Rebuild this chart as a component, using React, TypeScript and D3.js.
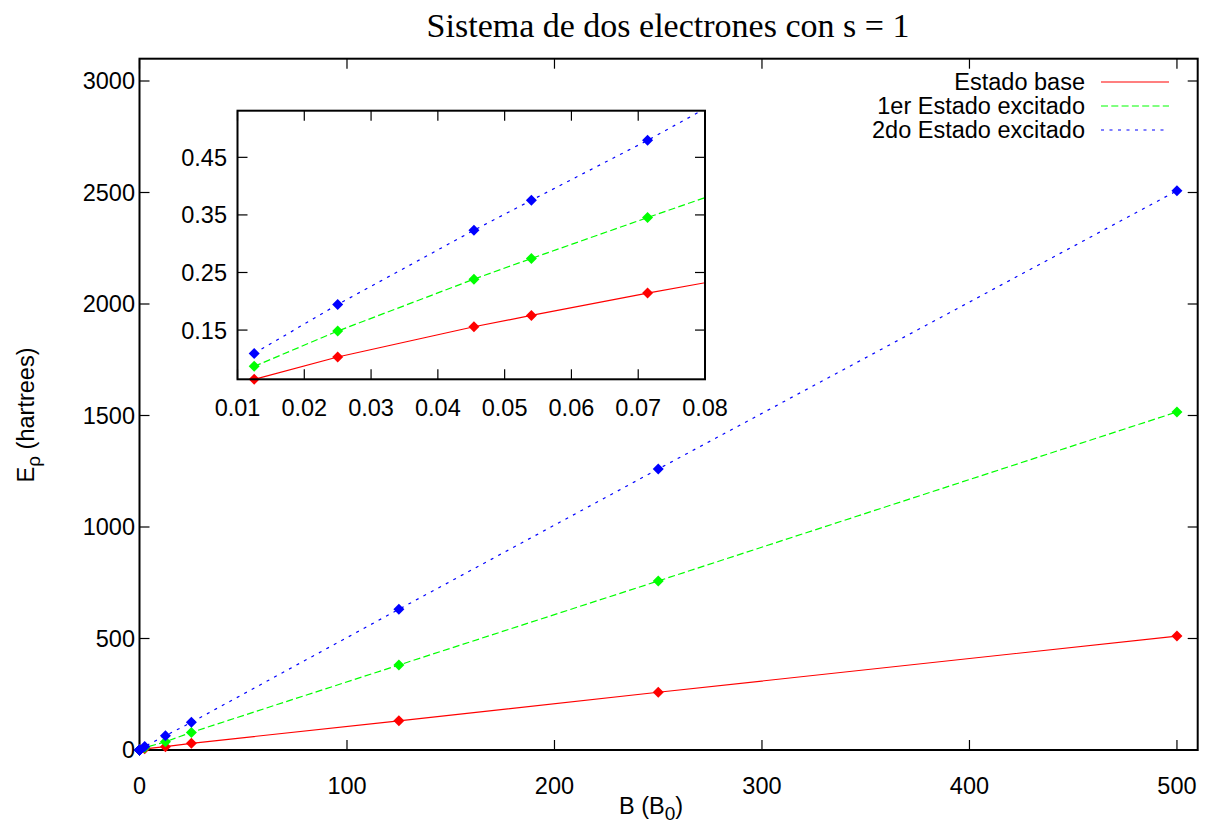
import React from "react";
import * as d3 from "d3";

const bValues = [0.0125, 0.025, 0.0454, 0.054, 0.0714, 2.5, 12.5, 25, 125, 250, 500];
const estadoBase = [0.0645, 0.1032, 0.1558, 0.1754, 0.2142, 5.3, 15, 30, 131, 259, 511];
const primerExcitado = [0.087, 0.1483, 0.2384, 0.2743, 0.3454, 10.1, 37, 79, 381, 758, 1516];
const segundoExcitado = [0.1095, 0.1945, 0.3234, 0.3754, 0.4795, 16, 64, 124, 631, 1260, 2508];

const seriesNames = ["Estado base", "1er Estado excitado", "2do Estado excitado"];
const seriesColors = ["#ff0000", "#00ff00", "#0000ff"];
const seriesDash = [null, "7,3.3", "3,5.5"];

const mainXTicks = [0, 100, 200, 300, 400, 500];
const mainYTicks = [0, 500, 1000, 1500, 2000, 2500, 3000];
const insetXTicks = [0.01, 0.02, 0.03, 0.04, 0.05, 0.06, 0.07, 0.08];
const insetYTicks = [0.15, 0.25, 0.35, 0.45];

const W = 1207;
const H = 827;
const SANS = "'Liberation Sans', Arial, Helvetica, sans-serif";
const SERIF = "'Liberation Serif', 'Times New Roman', serif";
const FS = 23.5;

const allSeries = [estadoBase, primerExcitado, segundoExcitado];

function diamond(x: number, y: number, r: number) {
  return `M${x},${y - r}L${x + r},${y}L${x},${y + r}L${x - r},${y}Z`;
}

export default function App() {
  const x = d3.scaleLinear().domain([0, 510]).range([139.5, 1197.7]);
  const y = d3.scaleLinear().domain([0, 3100]).range([750, 58.7]);
  const ix = d3.scaleLinear().domain([0.01, 0.08]).range([237.5, 705]);
  const iy = d3.scaleLinear().domain([0.0645, 0.531]).range([379.3, 110.7]);

  const lineMain = d3
    .line<number>()
    .x((_, i) => x(bValues[i]))
    .y((d) => y(d));
  const lineInset = d3
    .line<number>()
    .x((_, i) => ix(bValues[i]))
    .y((d) => iy(d));

  const [x0, x1] = x.range();
  const [y0, y1] = y.range();
  const [ix0, ix1] = ix.range();
  const [iy0, iy1] = iy.range();
  const tl = 10;

  return (
    <svg
      width={W}
      height={H}
      style={{ position: "absolute", left: 0, top: 0, background: "#fff" }}
    >
      <defs>
        <clipPath id="mainClip">
          <rect x={x0} y={y1} width={x1 - x0} height={y0 - y1} />
        </clipPath>
        <clipPath id="insetClip">
          <rect x={ix0} y={iy1} width={ix1 - ix0} height={iy0 - iy1} />
        </clipPath>
      </defs>
      <rect width={W} height={H} fill="#fff" />

      {/* Title */}
      <text x={668} y={37} textAnchor="middle" fontFamily={SERIF} fontSize={34} fill="#000">
        Sistema de dos electrones con s = 1
      </text>

      {/* Main ticks */}
      <g stroke="#000" strokeWidth={1.2}>
        {mainXTicks.map((t) => (
          <g key={"mx" + t}>
            <line x1={x(t)} x2={x(t)} y1={y0} y2={y0 - tl} />
            <line x1={x(t)} x2={x(t)} y1={y1} y2={y1 + tl} />
          </g>
        ))}
        {mainYTicks.map((t) => (
          <g key={"my" + t}>
            <line x1={x0} x2={x0 + tl} y1={y(t)} y2={y(t)} />
            <line x1={x1} x2={x1 - tl} y1={y(t)} y2={y(t)} />
          </g>
        ))}
      </g>
      <rect x={x0} y={y1} width={x1 - x0} height={y0 - y1} fill="none" stroke="#000" strokeWidth={2} />

      <g fontFamily={SANS} fontSize={FS} fill="#000">
        {mainXTicks.map((t) => (
          <text key={"mxl" + t} x={x(t)} y={794} textAnchor="middle">
            {t}
          </text>
        ))}
        {mainYTicks.map((t) => (
          <text key={"myl" + t} x={135} y={y(t)} dy="0.36em" textAnchor="end">
            {t}
          </text>
        ))}
        <text x={651} y={814} textAnchor="middle">
          B (B<tspan dy={6} fontSize={19}>0</tspan>
          <tspan dy={-6}>)</tspan>
        </text>
        <text transform={`translate(34,415) rotate(-90)`} textAnchor="middle">
          E<tspan dy={6} fontSize={19}>ρ</tspan>
          <tspan dy={-6}> (hartrees)</tspan>
        </text>
      </g>

      {/* Main series */}
      <g clipPath="url(#mainClip)">
        {allSeries.map((s, k) => (
          <path
            key={"ml" + k}
            d={lineMain(s) || ""}
            fill="none"
            stroke={seriesColors[k]}
            strokeWidth={1.2}
            strokeDasharray={seriesDash[k] || undefined}
          />
        ))}
      </g>
      {allSeries.map((s, k) => (
        <g key={"mp" + k} fill={seriesColors[k]}>
          {s.map((v, i) => (
            <path key={i} d={diamond(x(bValues[i]), y(v), 5.5)} />
          ))}
        </g>
      ))}

      {/* Legend */}
      <g fontFamily={SANS} fontSize={FS} fill="#000">
        {seriesNames.map((n, k) => (
          <g key={"lg" + k}>
            <text x={1085} y={82 + k * 24} dy="0.36em" textAnchor="end">
              {n}
            </text>
            <line
              x1={1101}
              x2={1169}
              y1={82 + k * 24}
              y2={82 + k * 24}
              stroke={seriesColors[k]}
              strokeWidth={1.2}
              strokeDasharray={seriesDash[k] || undefined}
            />
          </g>
        ))}
      </g>

      {/* Inset */}
      <rect x={ix0} y={iy1} width={ix1 - ix0} height={iy0 - iy1} fill="#fff" />
      <g stroke="#000" strokeWidth={1.2}>
        {insetXTicks.map((t) => (
          <g key={"ix" + t}>
            <line x1={ix(t)} x2={ix(t)} y1={iy0} y2={iy0 - tl} />
            <line x1={ix(t)} x2={ix(t)} y1={iy1} y2={iy1 + tl} />
          </g>
        ))}
        {insetYTicks.map((t) => (
          <g key={"iy" + t}>
            <line x1={ix0} x2={ix0 + tl} y1={iy(t)} y2={iy(t)} />
            <line x1={ix1} x2={ix1 - tl} y1={iy(t)} y2={iy(t)} />
          </g>
        ))}
      </g>
      <g clipPath="url(#insetClip)">
        {allSeries.map((s, k) => (
          <path
            key={"il" + k}
            d={lineInset(s) || ""}
            fill="none"
            stroke={seriesColors[k]}
            strokeWidth={1.2}
            strokeDasharray={seriesDash[k] || undefined}
          />
        ))}
      </g>
      {allSeries.map((s, k) => (
        <g key={"ip" + k} fill={seriesColors[k]}>
          {s.map((v, i) =>
            bValues[i] <= 0.08 ? (
              <path key={i} d={diamond(ix(bValues[i]), iy(v), 5.5)} />
            ) : null
          )}
        </g>
      ))}
      <rect x={ix0} y={iy1} width={ix1 - ix0} height={iy0 - iy1} fill="none" stroke="#000" strokeWidth={2} />
      <g fontFamily={SANS} fontSize={FS} fill="#000">
        {insetXTicks.map((t) => (
          <text key={"ixl" + t} x={ix(t)} y={416} textAnchor="middle">
            {t.toFixed(2)}
          </text>
        ))}
        {insetYTicks.map((t) => (
          <text key={"iyl" + t} x={227} y={iy(t)} dy="0.36em" textAnchor="end">
            {t.toFixed(2)}
          </text>
        ))}
      </g>
    </svg>
  );
}
